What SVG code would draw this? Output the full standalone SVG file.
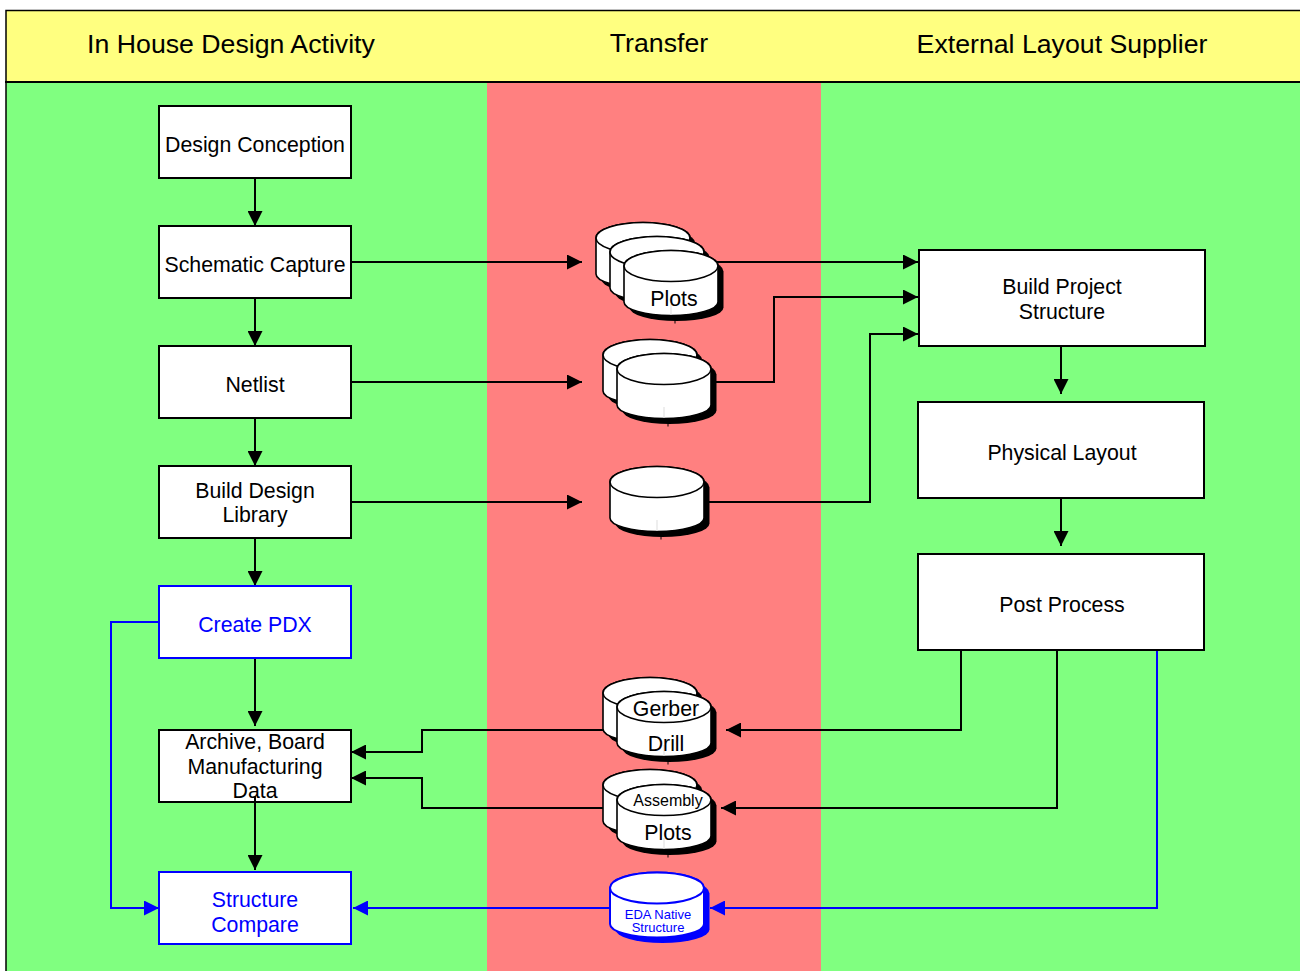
<svg xmlns="http://www.w3.org/2000/svg" width="1300" height="971" viewBox="0 0 1300 971">
<style>
text{font-family:"Liberation Sans",Arial,sans-serif;font-size:21.3px;fill:#000;text-anchor:middle}
.h{font-size:26.7px}
.b{fill:#fff;stroke:#000;stroke-width:2}
.bb{fill:#fff;stroke:#00f;stroke-width:2}
.c{fill:none;stroke:#000;stroke-width:2}
.cb{fill:none;stroke:#00f;stroke-width:2}
.k{fill:#000}
.kb{fill:#00f}
.cs{fill:#fff;stroke:#000;stroke-width:1.6}
.csb{fill:#fff;stroke:#00f;stroke-width:2}
</style>
<defs>
<marker id="a" markerUnits="userSpaceOnUse" markerWidth="15" markerHeight="15" refX="15" refY="7.5" orient="auto"><path d="M0 0L15 7.5L0 15Z" class="k"/></marker>
<marker id="ab" markerUnits="userSpaceOnUse" markerWidth="15" markerHeight="15" refX="15" refY="7.5" orient="auto"><path d="M0 0L15 7.5L0 15Z" class="kb"/></marker>
<g id="cyl">
<path d="M5.500 5.500V41.500A47 13.500 0 0 0 99.500 41.500V5.500A47 15.500 0 0 0 5.500 5.500Z" class="k"/>
<path d="M0 0V36A47 13.500 0 0 0 94 36V0A47 15.500 0 0 0 0 0Z" class="cs"/>
<ellipse cx="47" cy="0" rx="47" ry="15.500" class="cs"/>
<path d="M47 38V49" stroke="#ddd" fill="none"/>
<path d="M51 54V57.500" stroke="#000" fill="none"/>
</g>
<g id="cylb">
<path d="M5.500 5.500V41.500A47 13.500 0 0 0 99.500 41.500V5.500A47 15.500 0 0 0 5.500 5.500Z" class="kb"/>
<path d="M0 0V36A47 13.500 0 0 0 94 36V0A47 15.500 0 0 0 0 0Z" class="csb"/>
<ellipse cx="47" cy="0" rx="47" ry="15.500" class="csb"/>
</g>
</defs>

<g id="background">
<rect x="6" y="11" width="1294" height="71" fill="#ffff80"/>
<rect x="6" y="82" width="481" height="889" fill="#80ff80"/>
<rect x="487" y="82" width="334" height="889" fill="#ff8080"/>
<rect x="821" y="82" width="479" height="889" fill="#80ff80"/>
<path d="M1300 10.500H6V971" fill="none" stroke="#000" stroke-width="1.500"/>
<path d="M5 82H1300" fill="none" stroke="#000" stroke-width="2"/>
<text class="h" x="231" y="53">In House Design Activity</text>
<text class="h" x="659" y="52">Transfer</text>
<text class="h" x="1062" y="53">External Layout Supplier</text>
</g>

<g id="connectors">
<path class="c" d="M255 178V226" marker-end="url(#a)"/>
<path class="c" d="M255 298V346" marker-end="url(#a)"/>
<path class="c" d="M255 418V466" marker-end="url(#a)"/>
<path class="c" d="M255 538V586" marker-end="url(#a)"/>
<path class="c" d="M255 658V726" marker-end="url(#a)"/>
<path class="c" d="M351 262H582" marker-end="url(#a)"/>
<path class="c" d="M351 382H582" marker-end="url(#a)"/>
<path class="c" d="M351 502H582" marker-end="url(#a)"/>
<path class="c" d="M716 262H918" marker-end="url(#a)"/>
<path class="c" d="M716 382H774V297H918" marker-end="url(#a)"/>
<path class="c" d="M706 502H870V334H918" marker-end="url(#a)"/>
<path class="c" d="M1061 346V394" marker-end="url(#a)"/>
<path class="c" d="M1061 498V546" marker-end="url(#a)"/>
<path class="c" d="M961 650V730H726" marker-end="url(#a)"/>
<path class="c" d="M1057 650V808H721" marker-end="url(#a)"/>
<path class="c" d="M604 730H422V752H351" marker-end="url(#a)"/>
<path class="c" d="M604 808H422V778H351" marker-end="url(#a)"/>
<path class="cb" d="M159 622H111V908H159" marker-end="url(#ab)"/>
<path class="cb" d="M1157 650V908H710" marker-end="url(#ab)"/>
<path class="cb" d="M610 908H353" marker-end="url(#ab)"/>
</g>

<g id="design-conception"><rect class="b" x="159" y="106" width="192" height="72"/><text x="255" y="152">Design Conception</text></g>
<g id="schematic-capture"><rect class="b" x="159" y="226" width="192" height="72"/><text x="255" y="272">Schematic Capture</text></g>
<g id="netlist"><rect class="b" x="159" y="346" width="192" height="72"/><text x="255" y="392">Netlist</text></g>
<g id="build-design-library"><rect class="b" x="159" y="466" width="192" height="72"/><text x="255" y="498">Build Design</text><text x="255" y="522">Library</text></g>
<g id="create-pdx"><rect class="bb" x="159" y="586" width="192" height="72"/><text x="255" y="632" style="fill:#00f">Create PDX</text></g>
<g id="archive"><rect class="b" x="159" y="730" width="192" height="72"/><text x="255" y="749">Archive, Board</text><text x="255" y="774">Manufacturing</text><text x="255" y="798">Data</text></g>
<path class="c" d="M255 796V870" marker-end="url(#a)"/>
<g id="structure-compare"><rect class="bb" x="159" y="872" width="192" height="72"/><text x="255" y="907" style="fill:#00f">Structure</text><text x="255" y="932" style="fill:#00f">Compare</text></g>

<g id="build-project"><rect class="b" x="919" y="250" width="286" height="96"/><text x="1062" y="294">Build Project</text><text x="1062" y="319">Structure</text></g>
<g id="physical-layout"><rect class="b" x="918" y="402" width="286" height="96"/><text x="1062" y="460">Physical Layout</text></g>
<g id="post-process"><rect class="b" x="918" y="554" width="286" height="96"/><text x="1062" y="612">Post Process</text></g>

<g id="store-plots">
<use href="#cyl" x="596" y="238"/><use href="#cyl" x="610" y="252"/><use href="#cyl" x="624" y="266"/>
<text x="674" y="306">Plots</text>
</g>
<g id="store-netlist"><use href="#cyl" x="603" y="355"/><use href="#cyl" x="617" y="369"/></g>
<g id="store-library"><use href="#cyl" x="610" y="482"/></g>
<g id="store-gerber"><use href="#cyl" x="603" y="693"/><use href="#cyl" x="617" y="707"/><text x="666" y="716">Gerber</text><text x="666" y="751">Drill</text></g>
<g id="store-assembly"><use href="#cyl" x="603" y="785"/><use href="#cyl" x="617" y="800"/><text x="668" y="806" style="font-size:16px">Assembly</text><text x="668" y="840">Plots</text></g>
<g id="store-eda"><use href="#cylb" x="610" y="888"/><text x="658" y="919" style="font-size:13px;fill:#00f">EDA Native</text><text x="658" y="932" style="font-size:13px;fill:#00f">Structure</text></g>
</svg>
